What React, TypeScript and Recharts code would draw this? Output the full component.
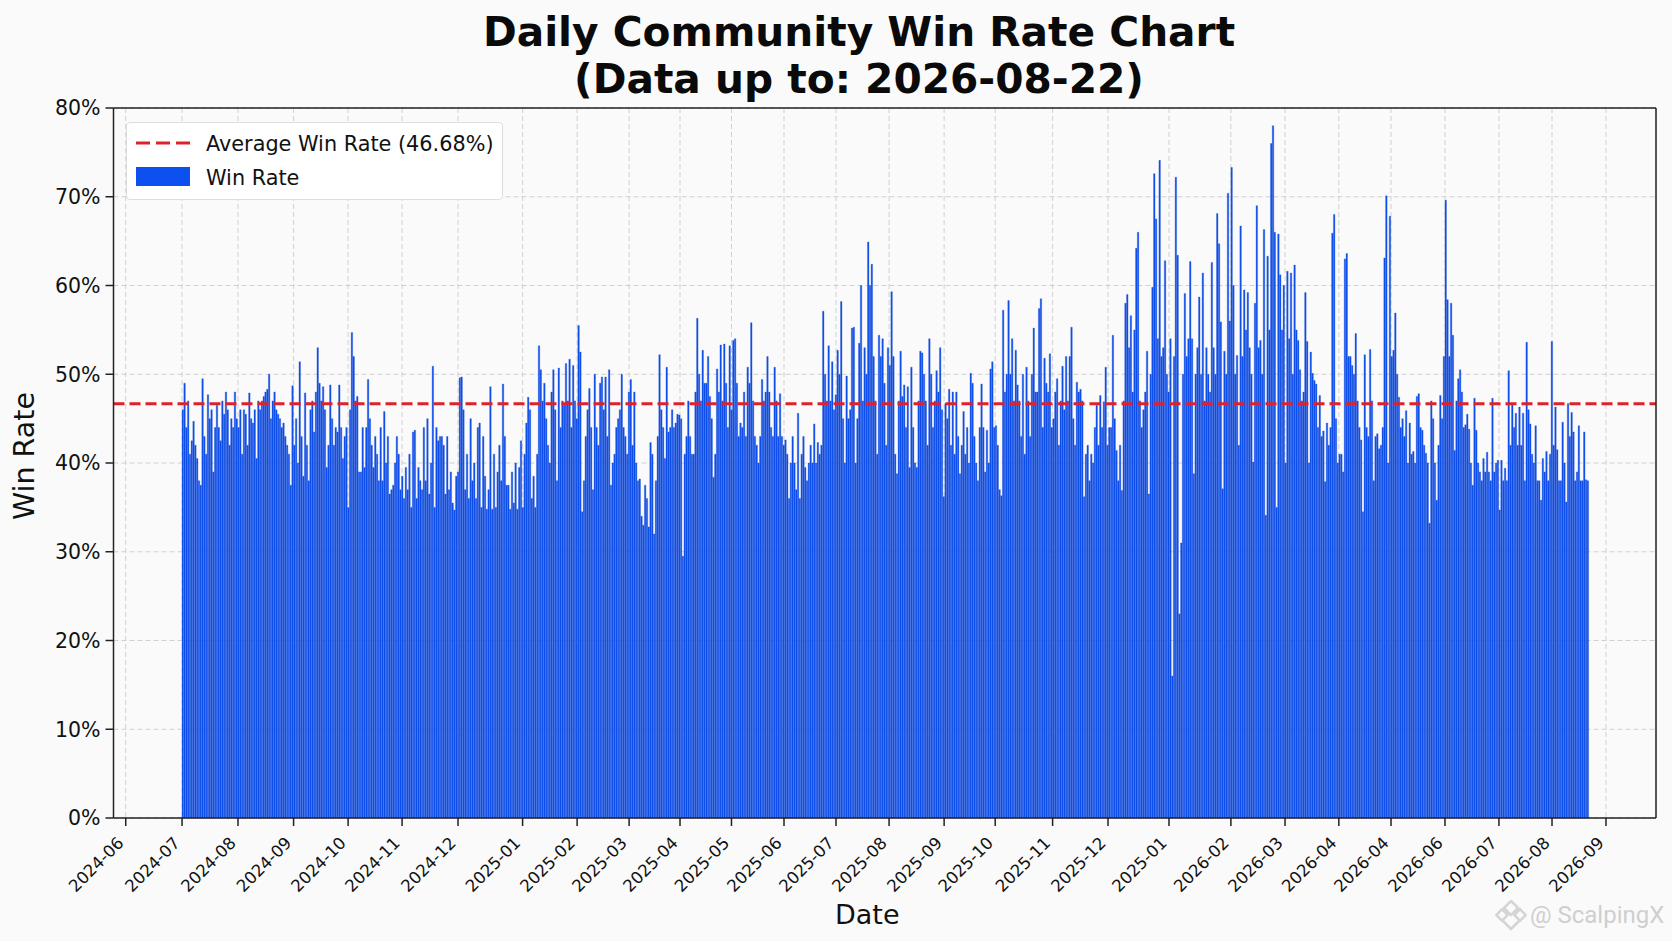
import { BarChart, Bar, XAxis, YAxis, CartesianGrid, ReferenceLine } from 'recharts'

// daily win rate (%) in blocks of 100 days
const rateA = [
  46,49,44,47,41,42.5,44.7,42,40.5,38,
  37.5,49.5,43,41,47.7,45,46,39,44,46.5,
  44,42.5,47,45.5,48,46,42,45,44,48,
  45,44,46,41,46,45.5,42,47.9,45,44.5,
  46,40.5,47,46,47,47.5,48,48.3,50,45,
  47,48,46,45.5,45,44,44.5,43,42,41,
  37.5,48.7,42,45,40,51.4,43,38.5,47.9,42,
  38,46,47,43.5,48,53,49,47,48.6,46,
  39.5,42,48.8,45,42,44,43.5,48.8,44,40.5,
  43,44,35,46,54.7,52,47,47.5,39,39,
]
const rateB = [
  44,39.5,44,49.4,45,42,39.5,43,41,38,
  44,38,45.8,40,43,36.5,37,37.5,40,43,
  41,37,38.5,36,39.5,37,41,35,43.5,43.7,
  36,39.5,38,37,44,38,45,36.5,40,50.9,
  35,44,42.5,43,43,42,36.5,43,37,39,
  35.5,34.7,38.5,39,49.6,49.7,46,37,41,36,
  45,38,40,36,44,44.5,35,43,38.5,34.8,
  37,48.6,34.8,41,35,39,42,38,48.9,43,
  37.5,37.5,34.8,39,35.5,40,34.8,39.5,42.5,35,
  41,44.5,47.4,46,36,38.5,35,41,53.2,50.5,
]
const rateC = [
  47,49,45,42,40,48,50.5,46,38,50.7,
  44,47,46.5,51.2,47,51.7,44,51,47,45,
  55.5,52.5,34.5,38,43,46,48.4,44,37,50,
  44,42,49,49.7,46,49.7,43,50.5,37.5,40,
  41,44,45,46,50,44,43,41,48,49.4,
  42,48,40,38,38.2,34,33,37.5,36,32.8,
  42.3,41,32,38,43,52.2,46,44,40.5,50.8,
  43.5,44,46,44,44.5,45.5,45.4,45,29.5,41,
  43,47,43,41,41,48,56.3,50,47,52.7,
  49,49,52,47.5,45,38.4,41,50.6,48,53.3,
]
const rateD = [
  47,53.4,49,44,53.2,46,53.8,54,49,43,
  44.5,44,48,43,50.8,49,55.8,47,43,42,
  40,43,49.4,47,48,52,48,44,43,50.8,
  47,43,47.8,43,42,42.6,41,36,40,43,
  40,37,45.6,36,41,43,39.5,38,40,42,
  40,44.4,40,42.3,41,42,57.1,50,47,53.2,
  47,51.4,46,47.7,52.7,50,58.2,45,40,49.8,
  45,46,55.2,55.3,40,45,53.5,60,47,53,
  50,64.9,60,62.4,52,47,41,54.4,52,54,
  49,42,53,51,59.3,52,41,38.8,47,52.6,
]
const rateE = [
  47.5,48.8,44,48.6,39.5,50.8,44,40,39.5,47,
  52.6,52.4,50,47,42,54,50,44,47,50.4,
  48,53,46,36.2,46.7,45,48.3,42,48,41,
  48,43,38.8,42,45.8,41,44,40,50.1,49,
  43,40,38,44,48.9,44,39,43.7,40,50.6,
  51.4,44,44.2,42,37,36.3,57.2,48,50,58.3,
  50,54,47,52.7,48.8,47,43,50,41,50.8,
  47,43,50,55.2,48,48,57.4,58.5,44,51.8,
  49,48,52.3,44,45,48,49.5,42,47,50.9,
  46,52,47,52,55.3,45,42,49.1,48,48.3,
]
const rateF = [
  47,36.2,41,42,38,41,40,44,46.5,42,
  47.6,44,46.9,50.8,42,44,44,54.4,45,41.4,
  38,42,36.9,47,58,59,53,56.6,48,55,
  64.2,66,47,44,46,48,52.6,36.5,50,59.8,
  72.6,67.5,54,74.1,52,53,62.8,50,48,54,
  16,52,72.2,63.4,23,31,50,59.1,52,54,
  62.7,54,38.8,50,53,58.7,50,61.4,47,53,
  50,48,62.6,53,50,68.1,64.7,55.9,37.1,52.6,
  50,70.4,56,73.3,60,50,52.1,42,66.7,52,
  59.5,55,59.2,53,50,40.1,58,69,53,53.8,
]
const rateG = [
  50,66.3,34.1,63.3,55,76,78,66,35,65.8,
  61.2,55,60,40,61.6,54,61.4,50,62.3,55,
  53.8,50.5,47,48,59.2,53.7,40,52.5,50.1,49.3,
  48.9,44,47.6,43,43.6,37.9,44.5,42,44,65.9,
  68,45,40,41,41,39,63,63.6,52,52,
  51,50,54.6,47,44,42.6,34.5,52.2,44,43,
  52.8,47,38,43,43.3,41.6,42,44,63.1,70.1,
  40,67.8,52,52.7,56.9,50,47.4,44,45,43,
  45.9,40,44.5,41,41.3,40,47.5,47.8,44,43.7,
  42,41.1,40,33.2,47,45,40,35.8,42,47.6,
]
const rateH = [
  45,52,69.6,58.4,52,58,54.4,41.4,47,49.5,
  50.5,48,44,44.3,45.5,43.8,40,37.5,47.3,43.7,
  40,39,38,40.5,39,41.2,39,38,47.3,39,
  40,40.3,34.7,40.3,38,39.4,38,50.4,42,46.7,
  44,45.6,42,46.3,42,45.6,38,53.6,46,44.4,
  41,40,44.2,38,38,35.8,40.5,39,41.3,38,
  41,53.7,42,46.3,41.5,38,38,44.6,40,35.6,
  46.7,43,45.7,43.5,38,39,44.2,38,38,43.5,38.1,38,
]

// x ticks: offset in days from the first bar, as placed on the picture
const tickDays = [
  -31.3, 0, 31.1, 62, 92.3, 122.3, 153.4, 189.3, 219.6, 248.5, 276.8, 305.4, 334.6, 363.5,
  393, 423.6, 452, 483.9, 514.7, 548.6, 583, 613.1, 643, 672, 702, 732, 761.5, 791.5,
]
const tickLabels = [
  '2024-06', '2024-07', '2024-08', '2024-09', '2024-10', '2024-11', '2024-12', '2025-01',
  '2025-02', '2025-03', '2025-04', '2025-05', '2025-06', '2025-07', '2025-08', '2025-09',
  '2025-10', '2025-11', '2025-12', '2025-01', '2026-02', '2026-03', '2026-04', '2026-04',
  '2026-06', '2026-07', '2026-08', '2026-09',
]
const yTicks = [0, 10, 20, 30, 40, 50, 60, 70, 80]
const average = 46.68

const winRate = [...rateA, ...rateB, ...rateC, ...rateD, ...rateE, ...rateF, ...rateG, ...rateH]
const data = winRate.map((value, i) => ({ day: i + 0.5, value }))

const FONT = '"DejaVu Sans", sans-serif'
const BLUE = '#0d50f0'
const RED = '#e0202a'

function DateTick({ x, y, index }: { x: number; y: number; index: number }) {
  const ax = x - 1
  const ay = y + 16
  return (
    <text x={ax} y={ay} textAnchor="end" fontSize={16.6} fontFamily={FONT} fill="#111" transform={`rotate(-45 ${ax} ${ay})`}>
      {tickLabels[index]}
    </text>
  )
}

export default function App() {
  return (
    <div style={{ position: 'absolute', left: 0, top: 0, width: 1672, height: 941, background: '#fafafa', fontFamily: FONT, overflow: 'hidden' }}>
      <BarChart
        width={1672}
        height={941}
        data={data}
        margin={{ top: 108, right: 16, bottom: 63, left: 53.5 }}
        barCategoryGap={0}
      >
        <CartesianGrid stroke="#d0d0d0" strokeDasharray="5 3" strokeWidth={1} />
        <XAxis
          dataKey="day"
          type="number"
          domain={[-38.1, 819.3]}
          allowDataOverflow
          ticks={tickDays}
          interval={0}
          height={60}
          tickSize={8}
          stroke="#222"
          strokeWidth={1.5}
          tick={DateTick}
        />
        <YAxis
          type="number"
          domain={[0, 80]}
          ticks={yTicks}
          interval={0}
          width={60}
          tickSize={8}
          tickMargin={5}
          stroke="#222"
          strokeWidth={1.5}
          tick={{ fill: '#111', fontSize: 20.5, fontFamily: FONT }}
          tickFormatter={(v: number) => `${v}%`}
        />
        <Bar dataKey="value" fill={BLUE} stroke="#1b4cc8" strokeWidth={0.3} barSize={1.5} isAnimationActive={false} />
        <ReferenceLine y={average} stroke={RED} strokeWidth={3} strokeDasharray="11 5" />
        <ReferenceLine y={80} stroke="#222" strokeWidth={1.5} />
        <ReferenceLine x={819.3} stroke="#222" strokeWidth={1.5} />
      </BarChart>

      <div style={{ position: 'absolute', left: 3, width: 1712, top: 9, textAlign: 'center', fontSize: 40.7, fontWeight: 700, lineHeight: '46.5px', color: '#0a0a0a' }}>
        Daily Community Win Rate Chart
        <br />
        (Data up to: 2026-08-22)
      </div>
      <div style={{ position: 'absolute', left: 835, top: 898, fontSize: 27, color: '#111', lineHeight: '34px' }}>Date</div>
      <div style={{ position: 'absolute', left: 25, top: 456, fontSize: 28.5, color: '#111', lineHeight: '34px', whiteSpace: 'nowrap', transform: 'translate(-50%, -50%) rotate(-90deg)' }}>
        Win Rate
      </div>

      <div style={{ position: 'absolute', left: 126, top: 122, width: 375, height: 76, background: '#fff', border: '1px solid #ddd', borderRadius: 4, fontSize: 20.8, color: '#111' }}>
        <svg width={72} height={76} style={{ position: 'absolute', left: 0, top: 0 }}>
          <line x1={9} x2={63} y1={20} y2={20} stroke={RED} strokeWidth={3} strokeDasharray="14 6" />
          <rect x={9} y={44} width={54} height={19} fill={BLUE} />
        </svg>
        <div style={{ position: 'absolute', left: 79, top: 8, whiteSpace: 'nowrap', lineHeight: '26px' }}>Average Win Rate (46.68%)</div>
        <div style={{ position: 'absolute', left: 79, top: 42, whiteSpace: 'nowrap', lineHeight: '26px' }}>Win Rate</div>
      </div>

      <svg width={32} height={32} style={{ position: 'absolute', left: 1495, top: 900 }}>
        <g fill="none" stroke="#d4d4d4" strokeWidth={2.5}>
          <rect x={11} y={3} width={10} height={10} transform="rotate(45 16 8)" />
          <rect x={3} y={11} width={8} height={8} transform="rotate(45 7 15)" />
          <rect x={21} y={11} width={8} height={8} transform="rotate(45 25 15)" />
          <path d="M8 21 L16 29 L24 21" />
        </g>
      </svg>
      <div style={{ position: 'absolute', left: 1530, top: 900, fontSize: 24, fontFamily: 'Roboto, sans-serif', color: '#cfcfcf', lineHeight: '30px', whiteSpace: 'nowrap' }}>@ ScalpingX</div>
    </div>
  )
}
